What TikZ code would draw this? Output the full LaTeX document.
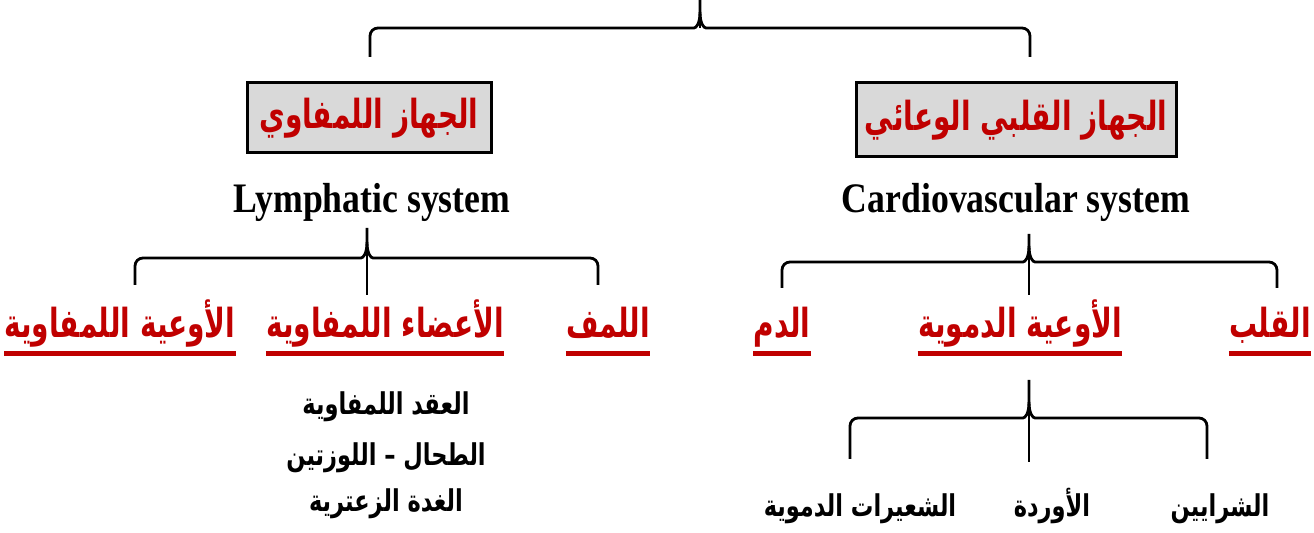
\documentclass[tikz,border=0pt]{standalone}
\usepackage{fontspec}
\usepackage{tikz}
\usetikzlibrary{positioning}
\setmainfont{Liberation Serif}
\newfontfamily\arabicfont[Script=Arabic, FakeStretch=0.7]{DejaVu Sans}
\newfontfamily\arabicitem[Script=Arabic, FakeStretch=0.75]{DejaVu Sans}
\newfontfamily\engfont[FakeStretch=0.85]{Liberation Serif}
\TeXXeTstate=1
\definecolor{darkred}{HTML}{C00000}
\definecolor{boxgray}{HTML}{D9D9D9}

\tikzset{
  brace/.style={line width=1.4pt, line join=round},
  titlebox/.style={draw, line width=1.5pt, fill=boxgray, text=darkred, inner sep=0pt,
    font=\arabicfont\bfseries\fontsize{20}{24}\selectfont},
  engtitle/.style={anchor=base, font=\engfont\bfseries\fontsize{21}{24}\selectfont},
  part/.style={anchor=base, inner xsep=0pt, text=darkred,
    font=\arabicfont\bfseries\fontsize{20}{24}\selectfont},
  item/.style={anchor=base, font=\arabicitem\bfseries\fontsize{15}{18}\selectfont},
  uline/.style={darkred, line width=2.5pt}
}

\begin{document}
\begin{tikzpicture}[x=0.5pt, y=-0.5pt]
    \useasboundingbox (0,0) rectangle (1314,533);

    % Braces
    \foreach \l/\m/\r/\h/\p/\e/\s in {370/700/1030/28/0/57/28,
        135/367/598/258/228/285/295, 782/1029/1277/262/234/288/295,
        850/1029/1207/418/380/459/462}{
        \draw[brace] (\l,\e) [rounded corners=4pt] -- (\l,\h) -- (\m-14,\h)
            [sharp corners] .. controls (\m-4,\h) and (\m,\h-4) .. (\m,\h-16) -- (\m,\p);
        \draw[brace] (\r,\e) [rounded corners=4pt] -- (\r,\h) -- (\m+14,\h)
            [sharp corners] .. controls (\m+4,\h) and (\m,\h-4) .. (\m,\h-16);
        \draw[brace] (\m,\h-16) -- (\m,\s);
    }

    % Systems
    \node[titlebox, minimum width=122pt, minimum height=35pt] (lymphbox) at (369,118)
        {\beginR الجهاز اللمفاوي\endR};
    \node[titlebox, minimum width=160pt, minimum height=37pt] (cardiobox) at (1016,120)
        {\beginR الجهاز القلبي الوعائي\endR};
    \node[engtitle] (lymphen) at (372,213) {Lymphatic system};
    \node[engtitle] (cardioen) at (1016,213) {Cardiovascular system};

    % Parts
    \node[part] (lvessels) at (120,338) {\beginR الأوعية اللمفاوية\endR};
    \node[part] (lorgans) at (385,338) {\beginR الأعضاء اللمفاوية\endR};
    \node[part] (lymph) at (608,338) {\beginR اللمف\endR};
    \node[part] (blood) at (782,338) {\beginR الدم\endR};
    \node[part] (bvessels) at (1020,338) {\beginR الأوعية الدموية\endR};
    \node[part] (heart) at (1270,338) {\beginR القلب\endR};
    \foreach \n in {lvessels, lorgans, lymph, blood, bvessels, heart}
        \draw[uline] ([yshift=-8pt]\n.base west) -- ([yshift=-8pt]\n.base east);

    % Lymphatic organs
    \node[item] (nodes) at (386,415) {\beginR العقد اللمفاوية\endR};
    \node[item] (spleen) at (386,466) {\beginR الطحال – اللوزتين\endR};
    \node[item] (thymus) at (386,512) {\beginR الغدة الزعترية\endR};

    % Blood vessels
    \node[item] (capill) at (860,517) {\beginR الشعيرات الدموية\endR};
    \node[item] (veins) at (1052,517) {\beginR الأوردة\endR};
    \node[item] (arteries) at (1220,517) {\beginR الشرايين\endR};
\end{tikzpicture}
\end{document}
